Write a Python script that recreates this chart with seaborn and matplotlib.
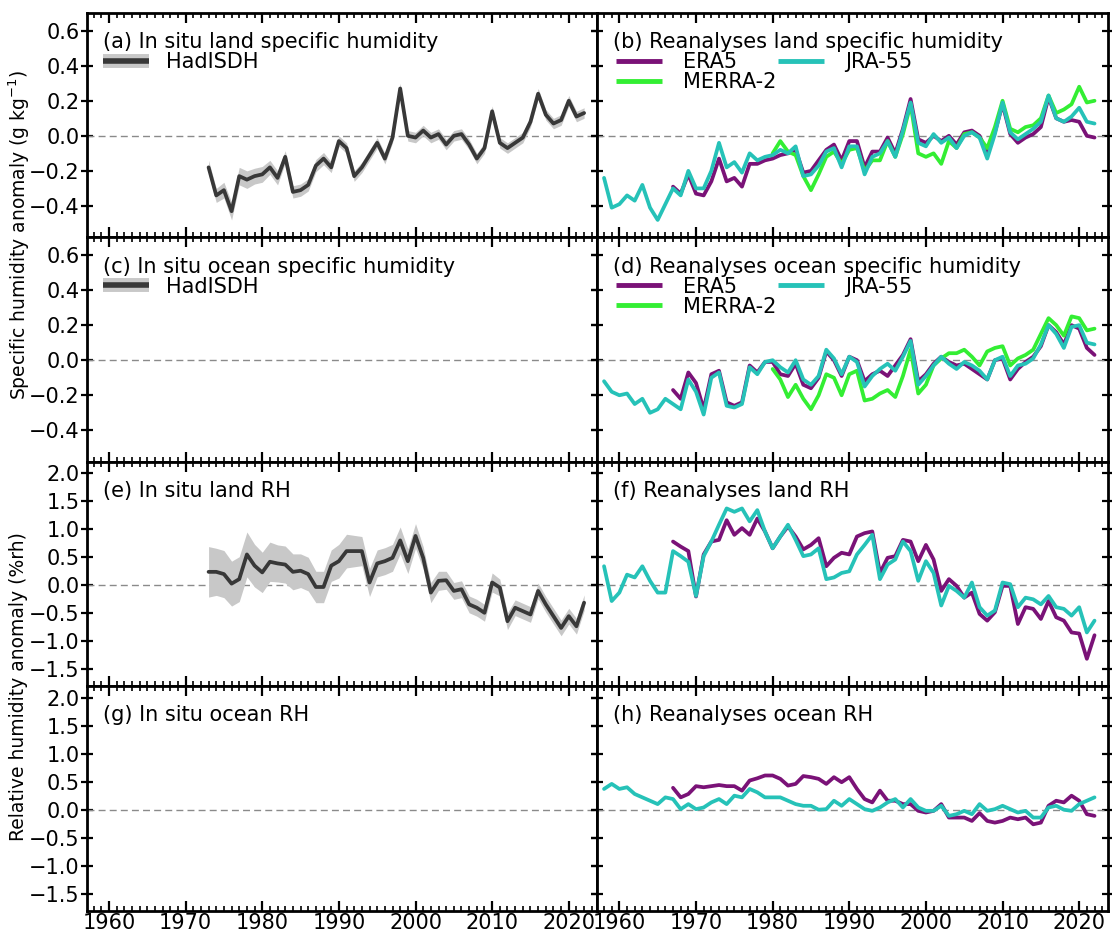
import numpy as np
import matplotlib
matplotlib.use("Agg")
import matplotlib.pyplot as plt
from matplotlib.lines import Line2D
from matplotlib.ticker import MultipleLocator
import seaborn as sns

# ---- data ----
jra_years = list(range(1958, 2023))
era_years = list(range(1967, 2023))
merra_years = list(range(1980, 2023))
had_years = list(range(1973, 2023))

# (a) HadISDH land specific humidity and its uncertainty
had_q_land = [-0.18, -0.34, -0.31, -0.43, -0.23, -0.25, -0.23, -0.22, -0.18, -0.24,
              -0.12, -0.32, -0.31, -0.28, -0.17, -0.13, -0.18, -0.03, -0.07, -0.23,
              -0.18, -0.11, -0.04, -0.13, -0.01, 0.27, 0.00, -0.01, 0.03, -0.01,
              0.01, -0.05, 0.00, 0.01, -0.05, -0.13, -0.07, 0.14, -0.04, -0.07,
              -0.04, -0.01, 0.08, 0.24, 0.12, 0.07, 0.09, 0.20, 0.11, 0.13]
had_q_unc = [0.04, 0.04, 0.045, 0.05, 0.05, 0.05, 0.045, 0.045, 0.04, 0.04,
             0.035, 0.035, 0.035, 0.035, 0.035, 0.035, 0.03, 0.03, 0.03, 0.03,
             0.03, 0.03, 0.03, 0.03, 0.03, 0.03, 0.03, 0.03, 0.03, 0.03,
             0.03, 0.03, 0.03, 0.03, 0.03, 0.03, 0.03, 0.03, 0.03, 0.03,
             0.03, 0.03, 0.03, 0.03, 0.03, 0.03, 0.03, 0.03, 0.03, 0.03]

# (b) reanalyses land specific humidity
era_q_land = [-0.29, -0.33, -0.22, -0.33, -0.34, -0.26, -0.13, -0.26, -0.24, -0.29,
              -0.16, -0.16, -0.14, -0.13, -0.11, -0.10, -0.08, -0.21, -0.20, -0.14,
              -0.08, -0.05, -0.14, -0.03, -0.03, -0.18, -0.09, -0.09, -0.01, -0.10,
              0.04, 0.21, -0.02, -0.04, 0.00, -0.03, 0.00, -0.05, 0.02, 0.03,
              0.00, -0.10, 0.02, 0.18, 0.01, -0.04, -0.01, 0.01, 0.05, 0.22,
              0.10, 0.08, 0.09, 0.08, 0.00, -0.01]
merra_q_land = [-0.10, -0.03, -0.09, -0.11, -0.23, -0.31, -0.22, -0.12, -0.09, -0.16,
                -0.08, -0.07, -0.20, -0.14, -0.14, -0.03, -0.12, 0.01, 0.18, -0.10,
                -0.12, -0.10, -0.16, -0.03, -0.07, 0.01, 0.02, -0.01, -0.07, 0.05,
                0.20, 0.04, 0.02, 0.05, 0.06, 0.10, 0.23, 0.13, 0.15, 0.18,
                0.28, 0.19, 0.20]
jra_q_land = [-0.24, -0.41, -0.39, -0.34, -0.37, -0.28, -0.41, -0.48, -0.39, -0.30,
              -0.34, -0.20, -0.30, -0.30, -0.20, -0.04, -0.18, -0.15, -0.21, -0.10,
              -0.14, -0.12, -0.11, -0.08, -0.10, -0.06, -0.23, -0.22, -0.17, -0.09,
              -0.07, -0.18, -0.06, -0.06, -0.22, -0.12, -0.10, -0.03, -0.12, 0.03,
              0.19, -0.04, -0.06, 0.01, -0.04, -0.01, -0.07, 0.00, 0.02, -0.01,
              -0.13, 0.01, 0.19, 0.02, -0.02, 0.01, 0.04, 0.08, 0.23, 0.10,
              0.08, 0.11, 0.16, 0.08, 0.07]

# (d) reanalyses ocean specific humidity
era_q_ocean = [-0.17, -0.22, -0.07, -0.13, -0.28, -0.08, -0.06, -0.24, -0.26, -0.24,
               -0.03, -0.07, -0.01, -0.01, -0.08, -0.09, -0.02, -0.14, -0.16, -0.10,
               0.05, 0.00, -0.09, 0.02, 0.00, -0.12, -0.08, -0.06, -0.09, -0.03,
               0.03, 0.12, -0.12, -0.08, -0.02, 0.02, -0.01, -0.03, -0.02, -0.05,
               -0.08, -0.11, 0.00, 0.01, -0.11, -0.05, -0.01, 0.02, 0.08, 0.20,
               0.16, 0.09, 0.20, 0.18, 0.07, 0.03]
merra_q_ocean = [-0.05, -0.11, -0.21, -0.14, -0.22, -0.28, -0.20, -0.08, -0.10, -0.20,
                 -0.08, -0.06, -0.23, -0.22, -0.19, -0.17, -0.21, -0.09, 0.06, -0.19,
                 -0.14, -0.03, 0.01, 0.04, 0.04, 0.06, 0.02, -0.03, 0.05, 0.07,
                 0.08, -0.03, 0.01, 0.03, 0.06, 0.15, 0.24, 0.20, 0.14, 0.25,
                 0.24, 0.17, 0.18]
jra_q_ocean = [-0.12, -0.18, -0.20, -0.19, -0.25, -0.22, -0.30, -0.28, -0.22, -0.25,
               -0.28, -0.11, -0.18, -0.31, -0.10, -0.07, -0.26, -0.27, -0.25, -0.04,
               -0.08, -0.01, 0.00, -0.04, -0.07, 0.00, -0.11, -0.14, -0.09, 0.06,
               0.01, -0.08, 0.02, -0.01, -0.15, -0.09, -0.05, -0.02, -0.06, 0.02,
               0.11, -0.14, -0.09, -0.03, 0.02, -0.02, -0.05, -0.01, -0.03, -0.06,
               -0.11, 0.00, 0.02, -0.09, -0.03, -0.02, 0.01, 0.09, 0.20, 0.15,
               0.07, 0.19, 0.20, 0.10, 0.09]

# (e) HadISDH land relative humidity and its uncertainty
had_rh_land = [0.24, 0.24, 0.20, 0.03, 0.11, 0.55, 0.35, 0.23, 0.42, 0.39,
               0.37, 0.24, 0.26, 0.20, -0.03, -0.03, 0.35, 0.43, 0.61, 0.61,
               0.61, 0.05, 0.39, 0.43, 0.49, 0.80, 0.43, 0.88, 0.49, -0.13,
               0.08, 0.09, -0.10, -0.07, -0.34, -0.40, -0.49, 0.05, -0.04, -0.64,
               -0.40, -0.46, -0.52, -0.10, -0.34, -0.55, -0.76, -0.55, -0.73, -0.31]
had_rh_unc = [0.45, 0.42, 0.42, 0.40, 0.40, 0.40, 0.38, 0.36, 0.35, 0.33,
              0.33, 0.32, 0.30, 0.30, 0.28, 0.28, 0.28, 0.30, 0.30, 0.28,
              0.26, 0.25, 0.24, 0.24, 0.24, 0.24, 0.22, 0.22, 0.20, 0.18,
              0.17, 0.16, 0.15, 0.15, 0.15, 0.15, 0.15, 0.17, 0.15, 0.15,
              0.14, 0.14, 0.14, 0.14, 0.14, 0.14, 0.14, 0.14, 0.14, 0.14]

# (f) reanalyses land relative humidity
era_rh_land = [0.78, 0.69, 0.61, -0.20, 0.55, 0.78, 0.81, 1.16, 0.90, 1.02,
               0.90, 1.19, 0.96, 0.66, 0.87, 1.05, 0.87, 0.64, 0.72, 0.84,
               0.34, 0.49, 0.58, 0.55, 0.87, 0.93, 0.96, 0.22, 0.49, 0.52,
               0.81, 0.78, 0.43, 0.72, 0.46, -0.10, 0.11, -0.01, -0.22, -0.13,
               -0.51, -0.63, -0.48, -0.01, -0.01, -0.69, -0.39, -0.42, -0.60, -0.28,
               -0.57, -0.63, -0.84, -0.86, -1.31, -0.89]
jra_rh_land = [0.34, -0.28, -0.13, 0.19, 0.14, 0.34, 0.08, -0.13, -0.13, 0.61,
               0.52, 0.42, -0.19, 0.52, 0.78, 1.08, 1.37, 1.31, 1.37, 1.14,
               1.34, 0.96, 0.66, 0.87, 1.08, 0.81, 0.52, 0.55, 0.66, 0.11,
               0.14, 0.22, 0.25, 0.55, 0.72, 0.90, 0.11, 0.37, 0.46, 0.78,
               0.61, 0.08, 0.43, 0.22, -0.36, -0.01, -0.10, -0.22, 0.05, -0.39,
               -0.54, -0.45, 0.05, 0.02, -0.39, -0.22, -0.25, -0.34, -0.19, -0.39,
               -0.42, -0.54, -0.39, -0.84, -0.63]

# (h) reanalyses ocean relative humidity
era_rh_ocean = [0.39, 0.22, 0.28, 0.42, 0.40, 0.42, 0.44, 0.42, 0.42, 0.34,
                0.52, 0.56, 0.61, 0.61, 0.55, 0.43, 0.46, 0.60, 0.58, 0.55,
                0.46, 0.58, 0.49, 0.58, 0.37, 0.19, 0.13, 0.34, 0.16, 0.16,
                0.10, 0.10, -0.02, -0.05, -0.02, 0.10, -0.14, -0.14, -0.14, -0.20,
                -0.06, -0.20, -0.23, -0.20, -0.14, -0.17, -0.14, -0.26, -0.23, 0.07,
                0.16, 0.13, 0.25, 0.16, -0.08, -0.11]
jra_rh_ocean = [0.37, 0.46, 0.37, 0.40, 0.28, 0.22, 0.16, 0.10, 0.22, 0.19,
                0.01, 0.10, 0.01, 0.04, 0.13, 0.19, 0.10, 0.25, 0.22, 0.37,
                0.31, 0.22, 0.22, 0.22, 0.16, 0.10, 0.07, 0.07, 0.00, 0.01,
                0.16, 0.07, 0.19, 0.10, 0.01, -0.02, 0.04, 0.13, 0.19, 0.04,
                0.19, 0.04, -0.02, -0.02, 0.07, -0.11, -0.08, -0.02, -0.08, 0.10,
                -0.02, 0.01, 0.07, 0.01, -0.05, -0.02, -0.14, -0.14, 0.04, 0.07,
                0.00, -0.02, 0.10, 0.16, 0.22]

ERA_C = "#7a1277"
MERRA_C = "#33ee33"
JRA_C = "#26c2b8"
HAD_C = "#383838"
BAND_C = "#c8c8c8"

sns.set_style("ticks")
plt.rcParams['font.family'] = ['DejaVu Sans']
plt.rcParams.update({
    'axes.linewidth': 2,
    'axes.edgecolor': 'black',
    'text.color': 'black',
    'axes.labelcolor': 'black',
    'xtick.color': 'black',
    'ytick.color': 'black',
})
FS = 15

fig, axes = plt.subplots(4, 2, figsize=(11.12, 9.35), dpi=100, sharex=True)
fig.subplots_adjust(left=0.078, right=0.996, top=0.986, bottom=0.026,
                    wspace=0, hspace=0)

titles = ["(a) In situ land specific humidity", "(b) Reanalyses land specific humidity",
          "(c) In situ ocean specific humidity", "(d) Reanalyses ocean specific humidity",
          "(e) In situ land RH", "(f) Reanalyses land RH",
          "(g) In situ ocean RH", "(h) Reanalyses ocean RH"]


def had_panel(ax, vals, unc):
    lo = np.array(vals) - np.array(unc)
    hi = np.array(vals) + np.array(unc)
    ax.fill_between(had_years, lo, hi, color=BAND_C, lw=0, zorder=2)
    sns.lineplot(x=had_years, y=vals, ax=ax, color=HAD_C, lw=2.7, zorder=3)


def rean_panel(ax, era, jra, merra=None):
    sns.lineplot(x=era_years, y=era, ax=ax, color=ERA_C, lw=2.7, zorder=3)
    if merra is not None:
        sns.lineplot(x=merra_years, y=merra, ax=ax, color=MERRA_C, lw=2.7, zorder=3)
    sns.lineplot(x=jra_years, y=jra, ax=ax, color=JRA_C, lw=2.7, zorder=3)


had_panel(axes[0, 0], had_q_land, had_q_unc)
rean_panel(axes[0, 1], era_q_land, jra_q_land, merra_q_land)
rean_panel(axes[1, 1], era_q_ocean, jra_q_ocean, merra_q_ocean)
had_panel(axes[2, 0], had_rh_land, had_rh_unc)
rean_panel(axes[2, 1], era_rh_land, jra_rh_land)
rean_panel(axes[3, 1], era_rh_ocean, jra_rh_ocean)

had_handle = (Line2D([], [], color=BAND_C, lw=10, solid_capstyle='butt'),
              Line2D([], [], color=HAD_C, lw=4, solid_capstyle='butt'))
rean_handles = [Line2D([], [], color=c, lw=3.5, solid_capstyle='butt')
                for c in (ERA_C, MERRA_C, JRA_C)]

for i, ax in enumerate(axes.flat):
    row, col = divmod(i, 2)
    ax.axhline(0, color="#8a8a8a", lw=1, ls=(0, (5, 3)), zorder=1)
    ax.set_xlim(1957.1, 2023.7)
    if row < 2:
        ax.set_ylim(-0.58, 0.70)
        ax.set_yticks([-0.4, -0.2, 0.0, 0.2, 0.4, 0.6])
    else:
        ax.set_ylim(-1.8, 2.2)
        ax.set_yticks([-1.5, -1.0, -0.5, 0.0, 0.5, 1.0, 1.5, 2.0])
    ax.xaxis.set_major_locator(MultipleLocator(10))
    ax.xaxis.set_minor_locator(MultipleLocator(1))
    ax.tick_params(axis="x", which="major", direction="in", length=7, width=1.6,
                   top=True, bottom=True, labelsize=FS, pad=2)
    ax.tick_params(axis="x", which="minor", direction="in", length=3.5, width=1.2,
                   top=True, bottom=True)
    ax.tick_params(axis="y", which="major", direction="inout", length=9, width=1.6,
                   left=True, right=True, labelsize=FS, pad=0.5)
    if col == 1:
        ax.tick_params(axis="y", labelleft=False)
    for sp in ax.spines.values():
        sp.set_linewidth(2)
        sp.set_visible(True)
    ax.set_xlabel("")
    ax.set_ylabel("")
    ax.text(0.032, 0.87, titles[i], transform=ax.transAxes, fontsize=FS,
            ha="left", va="center")
    if i in (0, 2):
        ax.legend([had_handle], ["HadISDH"], loc="upper left",
                  bbox_to_anchor=(0.032, 0.825), frameon=False, fontsize=FS,
                  handlelength=2.2, handletextpad=0.8, borderpad=0, borderaxespad=0)
    if i in (1, 3):
        ax.legend(rean_handles, ["ERA5", "MERRA-2", "JRA-55"], loc="upper left",
                  bbox_to_anchor=(0.037, 0.825), frameon=False, fontsize=FS, ncol=2,
                  handlelength=2.2, handletextpad=1.0, columnspacing=0.1,
                  labelspacing=0.0, borderpad=0, borderaxespad=0)

fig.text(0.017, 0.749, "Specific humidity anomaly (g kg$^{-1}$)", rotation=90,
         ha="center", va="center", fontsize=13.5)
fig.text(0.017, 0.266, "Relative humidity anomaly (%rh)", rotation=90,
         ha="center", va="center", fontsize=13.5)

fig.savefig("out.png", dpi=100)
